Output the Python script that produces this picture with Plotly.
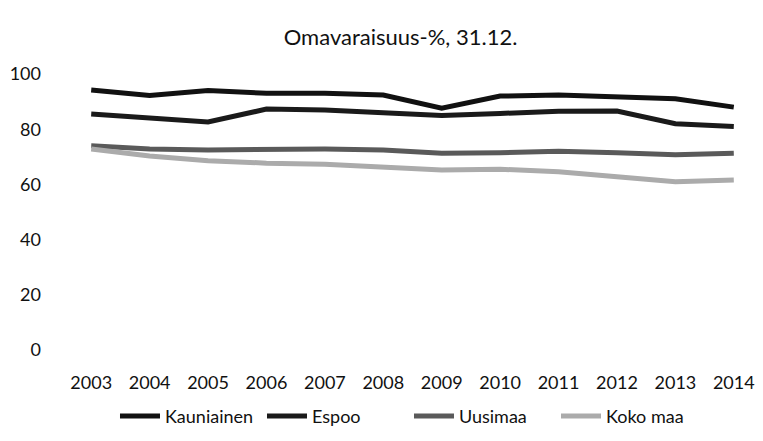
import plotly.graph_objects as go

years = ["2003", "2004", "2005", "2006", "2007", "2008", "2009", "2010", "2011", "2012", "2013", "2014"]
kauniainen = [94.2, 92.2, 94.0, 93.0, 93.0, 92.4, 87.6, 92.0, 92.4, 91.8, 91.0, 88.0]
espoo = [85.5, 84.0, 82.6, 87.3, 87.0, 86.0, 85.0, 85.7, 86.5, 86.6, 82.0, 81.0]
uusimaa = [74.0, 72.8, 72.5, 72.8, 72.8, 72.5, 71.3, 71.5, 72.0, 71.5, 70.7, 71.3]
koko_maa = [72.8, 70.3, 68.6, 67.7, 67.3, 66.4, 65.2, 65.5, 64.6, 62.8, 61.0, 61.6]

series = [
    ("Kauniainen", kauniainen, "#111111"),
    ("Espoo", espoo, "#1a1a1a"),
    ("Uusimaa", uusimaa, "#5a5a5a"),
    ("Koko maa", koko_maa, "#ababab"),
]

fig = go.Figure()
for name, vals, color in series:
    fig.add_trace(go.Scatter(x=years, y=vals, name=name, mode="lines",
                             line=dict(color=color, width=5)))

font_family = "Lato, 'Open Sans', sans-serif"
fig.update_layout(
    width=763, height=441,
    margin=dict(l=62, r=0, t=74, b=91),
    paper_bgcolor="white", plot_bgcolor="white",
    font=dict(family=font_family, size=18, color="#111111"),
    title=dict(text="Omavaraisuus-%, 31.12.", x=0.525, xanchor="center",
               y=0.915, yanchor="middle", font=dict(size=22, family=font_family)),
    showlegend=True,
    legend=dict(orientation="h", x=0.495, xanchor="center", y=-0.24, yanchor="middle",
                font=dict(size=18), traceorder="normal", itemwidth=40,
                entrywidth=92, entrywidthmode="pixels",
                tracegroupgap=0, bgcolor="rgba(0,0,0,0)"),
    xaxis=dict(type="category", range=[-0.5, 11.5], showgrid=False, showline=False,
               zeroline=False, ticks="", ticklabelstandoff=20, automargin=False),
    yaxis=dict(range=[0, 100], tickvals=[0, 20, 40, 60, 80, 100], showgrid=False,
               showline=False, zeroline=False, ticks="", ticklabelstandoff=20,
               automargin=False),
)

fig.write_html("out.html", config={"displayModeBar": False},
               post_script="document.body.style.margin='0';")
